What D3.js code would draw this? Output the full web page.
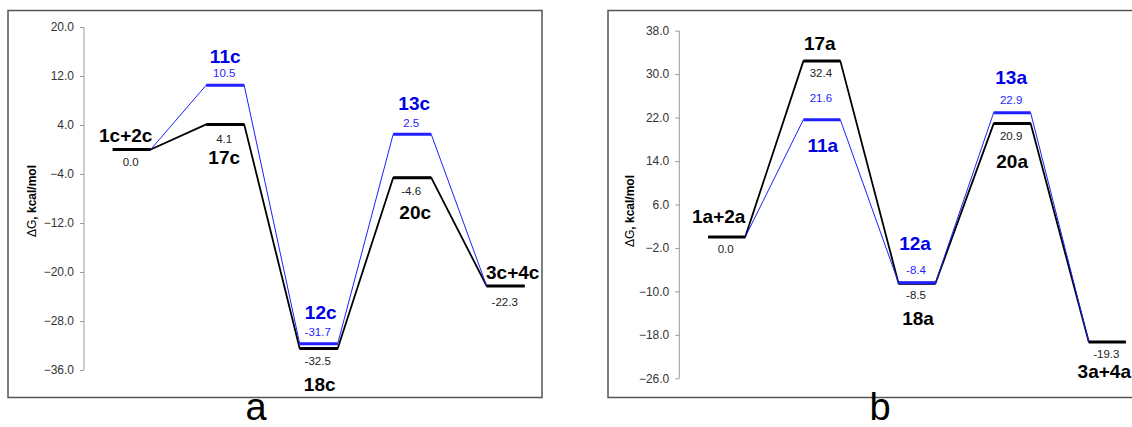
<!DOCTYPE html>
<html>
<head>
<meta charset="utf-8">
<script src="https://cdn.jsdelivr.net/npm/d3@7"></script>
<style>
  body { margin: 0; background: #fff; }
  svg { display: block; font-family: Arial, "Liberation Sans", sans-serif; }
  .frame { fill: none; stroke: #555; stroke-width: 1.5; }
  .axis path, .axis line { stroke: #9a9a9a; }
  .axis text { font-size: 12px; fill: #333; }
  .name { font-size: 19px; font-weight: bold; }
  .value { font-size: 11.5px; }
</style>
</head>
<body>
<svg id="chart" width="1132" height="427"></svg>
<script>
'use strict';

// Panel a
const statesA = ['1c+2c', '17c', '18c', '20c', '3c+4c'];
const valuesA = [0.0, 4.1, -32.5, -4.6, -22.3];
const blueStatesA = ['11c', '12c', '13c'];
const blueValuesA = [10.5, -31.7, 2.5];
const ticksA = [20, 12, 4, -4, -12, -20, -28, -36];

// Panel b
const statesB = ['1a+2a', '17a', '18a', '20a', '3a+4a'];
const valuesB = [0.0, 32.4, -8.5, 20.9, -19.3];
const blueStatesB = ['11a', '12a', '13a'];
const blueValuesB = [21.6, -8.4, 22.9];
const ticksB = [38, 30, 22, 14, 6, -2, -10, -18, -26];

// Label offsets from the level line: [name dy, value dy, name dx].
const layoutA = {
  black: [[-8, 16.5, -6], [40, 19, -1], [42, 16.5, 1], [41.5, 17, 3], [-7, 20, 7]],
  blue: [[-22, -8, 0], [-25, -7.7, 2], [-24, -7, 2]]
};
const layoutB = {
  black: [[-14.5, 16, -8], [-11, 16, -2], [42, 16, 1], [44.5, 16.5, 0], [36.5, 16.5, -3]],
  blue: [[32, -17.5, 1], [-33, -8.7, -2], [-29, -8.7, -1]]
};

const svg = d3.select('#chart');
const BLACK = '#000';
const BLUE = '#1f1fff';

function drawPanel(opts) {
  const g = svg.append('g');
  const halfW = opts.halfWidth;

  g.append('rect').attr('class', 'frame')
    .attr('x', opts.frame[0]).attr('y', opts.frame[1])
    .attr('width', opts.frame[2]).attr('height', opts.frame[3]);

  const x = d3.scaleLinear().domain([0, opts.states.length - 1]).range(opts.xRange);
  const y = d3.scaleLinear().domain(d3.extent(opts.ticks)).range(opts.yRange);

  // y axis
  g.append('g')
    .attr('class', 'axis')
    .attr('transform', `translate(${opts.axisX},0)`)
    .call(d3.axisLeft(y).tickValues(opts.ticks).tickSize(4).tickSizeOuter(0).tickPadding(6)
      .tickFormat(d3.format('.1f')))
    .call(a => a.select('.domain').attr('d', `M0,${y(d3.max(opts.ticks))}V${y(d3.min(opts.ticks))}`));

  g.append('text')
    .attr('transform', `translate(${opts.titlePos[0]},${opts.titlePos[1]}) rotate(-90)`)
    .attr('text-anchor', 'middle')
    .style('font-size', '12px')
    .call(t => {
      t.append('tspan').text('ΔG');
      t.append('tspan').attr('font-weight', 'bold').text(', kcal/mol');
    });

  // black profile
  const black = opts.values.map((v, i) => ({ i, v, name: opts.states[i] }));
  const blackPts = [];
  black.forEach(d => { blackPts.push([x(d.i) - halfW, y(d.v)], [x(d.i) + halfW, y(d.v)]); });
  g.append('path')
    .attr('d', d3.line()(blackPts))
    .attr('fill', 'none').attr('stroke', BLACK).attr('stroke-width', 1.8)
    .attr('stroke-linejoin', 'round');
  g.selectAll('line.lvl-black').data(black).join('line')
    .attr('class', 'lvl-black')
    .attr('x1', d => x(d.i) - halfW).attr('x2', d => x(d.i) + halfW)
    .attr('y1', d => y(d.v)).attr('y2', d => y(d.v))
    .attr('stroke', BLACK).attr('stroke-width', 3);

  // blue profile: branches off the first black level and rejoins the last
  const blue = opts.blueValues.map((v, k) => ({ i: k + 1, v, name: opts.blueStates[k] }));
  const first = black[0];
  const last = black[black.length - 1];
  const bluePts = [[x(first.i) + halfW, y(first.v)]];
  blue.forEach(d => { bluePts.push([x(d.i) - halfW, y(d.v)], [x(d.i) + halfW, y(d.v)]); });
  bluePts.push([x(last.i) - halfW, y(last.v)]);
  g.append('path')
    .attr('d', d3.line()(bluePts))
    .attr('fill', 'none').attr('stroke', BLUE).attr('stroke-width', 1);
  g.selectAll('line.lvl-blue').data(blue).join('line')
    .attr('class', 'lvl-blue')
    .attr('x1', d => x(d.i) - halfW).attr('x2', d => x(d.i) + halfW)
    .attr('y1', d => y(d.v)).attr('y2', d => y(d.v))
    .attr('stroke', BLUE).attr('stroke-width', 3);

  // labels
  const addLabels = (data, layout, color, valueColor) => {
    data.forEach((d, k) => {
      const [nameDy, valueDy, nameDx] = layout[k];
      g.append('text').attr('class', 'name')
        .attr('x', x(d.i) + nameDx).attr('y', y(d.v) + nameDy)
        .attr('text-anchor', 'middle').attr('fill', color)
        .text(d.name);
      g.append('text').attr('class', 'value')
        .attr('x', x(d.i) - 1).attr('y', y(d.v) + valueDy)
        .attr('text-anchor', 'middle').attr('fill', valueColor)
        .text(d3.format('.1f')(d.v).replace('−', '-'));
    });
  };
  addLabels(black, opts.layout.black, BLACK, '#222');
  addLabels(blue, opts.layout.blue, '#0000e6', BLUE);

  svg.append('text')
    .attr('x', opts.letterX).attr('y', 420)
    .attr('text-anchor', 'middle')
    .style('font-size', '38px')
    .text(opts.letter);
}

drawPanel({
  states: statesA, values: valuesA, blueStates: blueStatesA, blueValues: blueValuesA,
  ticks: ticksA, layout: layoutA,
  frame: [8, 10.5, 534, 387],
  axisX: 84, xRange: [131.7, 505.7], yRange: [370, 27], halfWidth: 19,
  titlePos: [36, 201], letter: 'a', letterX: 256
});

drawPanel({
  states: statesB, values: valuesB, blueStates: blueStatesB, blueValues: blueValuesB,
  ticks: ticksB, layout: layoutB,
  frame: [608, 10.5, 600, 387],
  axisX: 679.3, xRange: [726.7, 1107.3], yRange: [378.3, 30.7], halfWidth: 18.5,
  titlePos: [634, 211], letter: 'b', letterX: 880
});
</script>
</body>
</html>
